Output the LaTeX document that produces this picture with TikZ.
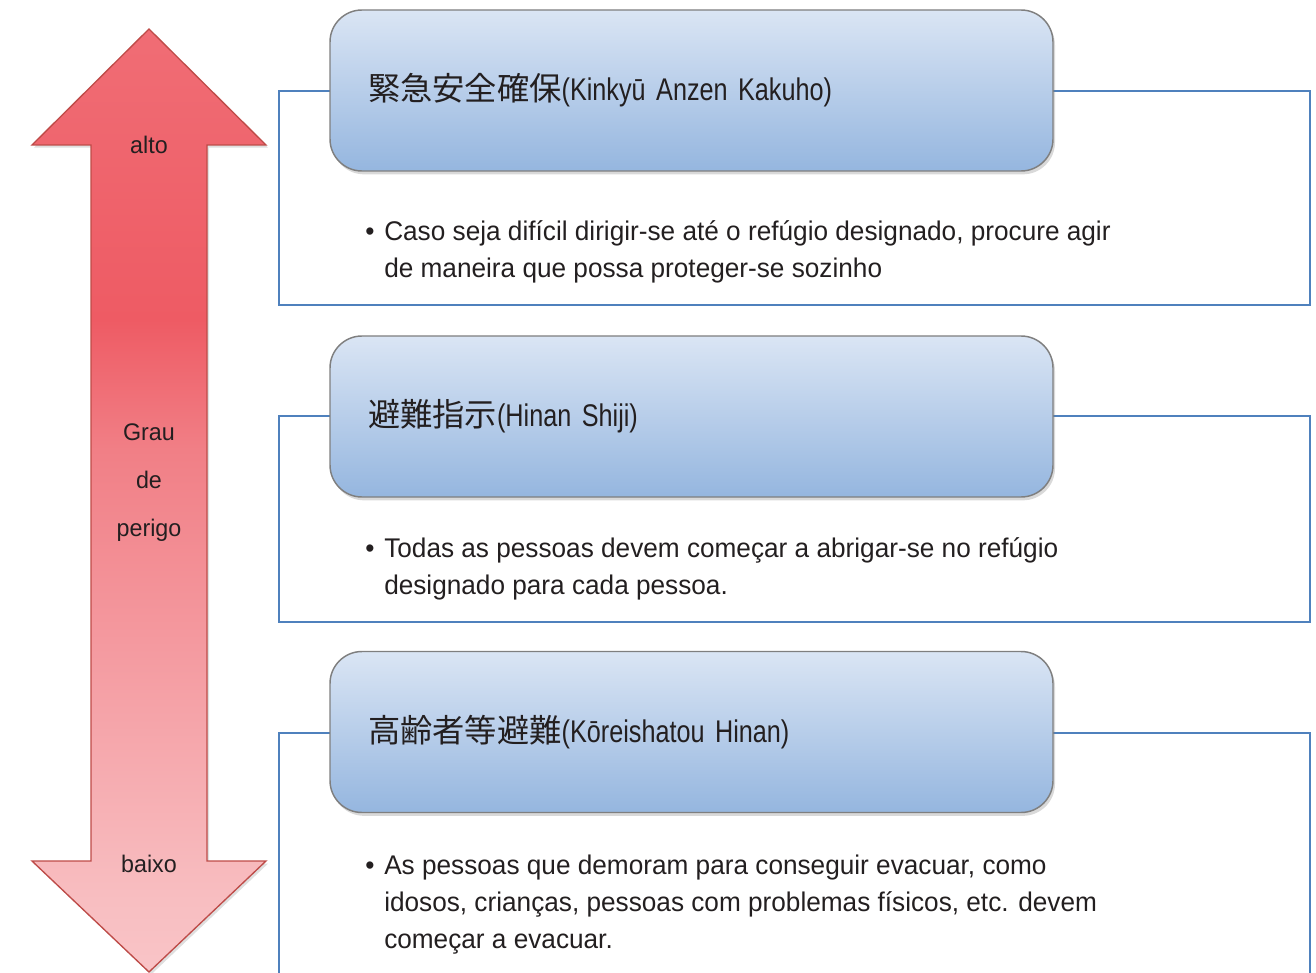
\documentclass[tikz,border=0pt]{standalone}
\usepackage{fontspec}
\setmainfont[FakeStretch=0.97]{Liberation Sans}
\newfontfamily\titlefont[FakeStretch=0.805]{Liberation Sans}
\newfontfamily\cjk[Scale=1.03]{Noto Sans CJK JP}
\usetikzlibrary{shadows}
\definecolor{arrA}{HTML}{F06D75}
\definecolor{arrB}{HTML}{EE5B64}
\definecolor{arrC}{HTML}{F17F86}
\definecolor{arrD}{HTML}{F4999F}
\definecolor{arrE}{HTML}{F8BEC1}
\definecolor{arrF}{HTML}{F9C4C7}
\definecolor{arrline}{HTML}{BE4B48}
\definecolor{rectblue}{HTML}{4F81BD}
\definecolor{boxgray}{HTML}{7F7F7F}
\definecolor{boxtop}{HTML}{DAE5F4}
\definecolor{boxbot}{HTML}{95B6DF}
\definecolor{ink}{HTML}{231F20}
\pgfdeclareverticalshading{arrowshade}{100bp}{color(0bp)=(arrF); color(25bp)=(arrF); color(28.8bp)=(arrE); color(42.6bp)=(arrD); color(52.7bp)=(arrC); color(59.6bp)=(arrB); color(75bp)=(arrA); color(100bp)=(arrA)}
\tikzset{
  titlebox/.style={rounded corners=24pt, draw=boxgray, line width=1.1pt,
    top color=boxtop, bottom color=boxbot,
    minimum width=542.25pt, minimum height=120.75pt,
    text width=485.25pt, inner xsep=28.5pt, align=left, text=ink,
    font=\titlefont\fontsize{23.5}{28}\selectfont,
    drop shadow={shadow xshift=1.5pt, shadow yshift=-2.5pt, opacity=0.3}},
  detailbox/.style={draw=rectblue, line width=1.1pt, minimum width=773.25pt, inner sep=0pt},
  bodytext/.style={anchor=base west, inner sep=0pt, align=left, text=ink,
    font=\fontsize{20.25}{27.75}\selectfont},
  sidelabel/.style={inner sep=0pt, align=center, text=ink,
    font=\fontsize{18}{36}\selectfont}
}
\newcommand{\bul}{\makebox[14.25pt][l]{\textbullet}}
\newcommand{\ind}{\hspace*{14.25pt}}
\begin{document}
\begin{tikzpicture}[x=0.75pt,y=-0.75pt]
\useasboundingbox (0,0) rectangle (1316,973);
\clip (0,0) rectangle (1316,973);
% double arrow
\path[draw=arrline, line width=1pt, shading=arrowshade,
  drop shadow={shadow xshift=1.5pt, shadow yshift=-2pt, opacity=0.25}]
  (149,29) -- (266,145) -- (207,145) -- (207,861) -- (266,861) -- (149,972)
  -- (32,861) -- (91,861) -- (91,145) -- (32,145) -- cycle;
\node[sidelabel] (alto) at (149,145) {alto};
\node[sidelabel] (grau) at (149,483) {Grau\\de\\perigo};
\node[sidelabel] (baixo) at (149,864) {baixo};
% detail rectangles
\node[detailbox, minimum height=160.5pt] (d1) at (794.5,198) {};
\node[detailbox, minimum height=154.5pt] (d2) at (794.5,519) {};
\node[detailbox, minimum height=200.25pt] (d3) at (794.5,866.5) {};
% title boxes
\node[titlebox] (t1) at (691.5,90.5) {{\cjk 緊急安全確保}(Kinkyū Anzen Kakuho)};
\node[titlebox] (t2) at (691.5,416.5) {{\cjk 避難指示}(Hinan Shiji)};
\node[titlebox] (t3) at (691.5,732) {{\cjk 高齢者等避難}(Kōreishatou Hinan)};
% body texts (anchored at the baseline of the last line)
\node[bodytext] (b1) at (365,278) {\bul Caso seja difícil dirigir-se até o refúgio designado, procure agir\\\ind de maneira que possa proteger-se sozinho};
\node[bodytext] (b2) at (365,594) {\bul Todas as pessoas devem começar a abrigar-se no refúgio\\\ind designado para cada pessoa.};
\node[bodytext] (b3) at (365,948) {\bul As pessoas que demoram para conseguir evacuar, como\\\ind idosos, crianças, pessoas com problemas físicos, etc. devem\\\ind começar a evacuar.};
\end{tikzpicture}
\end{document}
